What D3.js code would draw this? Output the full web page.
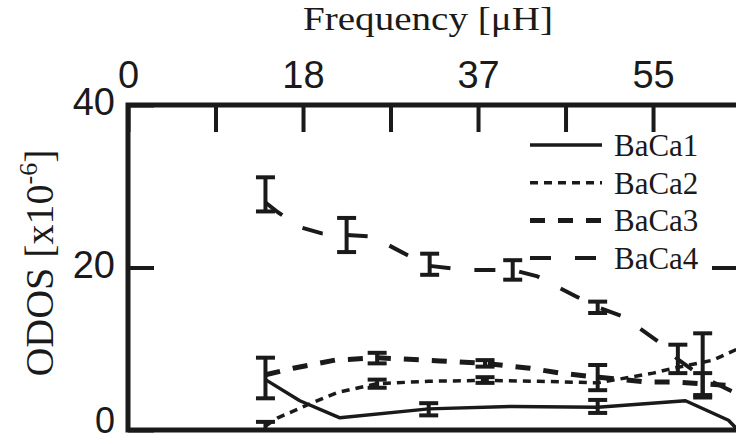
<!DOCTYPE html>
<html>
<head>
<meta charset="utf-8">
<script src="https://cdn.jsdelivr.net/npm/d3@7"></script>
<style>
  html, body { margin: 0; padding: 0; background: #fff; }
  svg { display: block; }
</style>
</head>
<body>
<svg id="chart" width="736" height="444"></svg>
<script>
// Top axis: minor ticks every 55/6 units, labels on every other tick
const freqTickValues = d3.range(7).map(i => i * 55 / 6);
const freqLabels = ["0", "18", "37", "55"];
const odosTicks = [0, 20, 40];
const odosLabels = ["0", "20", "40"];

const seriesNames = ["BaCa1", "BaCa2", "BaCa3", "BaCa4"];

// Line points per series: [frequency, ODOS]
const baca1 = [[14.4, 6.2], [18.0, 3.6], [22.2, 1.5], [31.5, 2.6], [40.3, 2.9], [49.2, 2.8], [58.4, 3.6], [62.9, 1.2], [63.9, 0]];
const baca2 = [[14.4, 0.5], [15.7, 1.5], [19.4, 3.4], [21.9, 4.6], [26.1, 5.7], [31.5, 6.0], [37.4, 6.1], [43.0, 6.0], [49.2, 5.8], [55.0, 7.0], [57.1, 7.6], [61.3, 8.6], [63.9, 10.0]];
const baca3 = [[14.4, 6.8], [17.3, 7.6], [21.7, 8.6], [26.1, 8.9], [32.7, 8.5], [37.4, 8.2], [42.1, 7.6], [45.3, 7.0], [49.2, 6.5], [54.4, 5.9], [57.6, 5.9], [63.9, 5.4]];
const baca4 = [[14.4, 28.0], [15.7, 26.8], [18.2, 24.9], [20.3, 24.2], [22.9, 24.0], [25.6, 23.8], [29.3, 21.5], [31.6, 20.2], [35.5, 19.7], [40.3, 19.7], [42.9, 18.9], [47.0, 16.4], [49.2, 15.1], [51.8, 14.0], [56.0, 10.5], [57.6, 8.7], [60.2, 6.5], [63.9, 4.4]];

// Error bars per series: [frequency, low, high]
const baca1Err = [[31.5, 1.8, 3.3], [49.2, 2.1, 3.7]];
const baca2Err = [[14.4, 0.0, 1.0], [26.1, 5.2, 6.2], [37.4, 5.8, 6.5], [60.2, 4.0, 11.9]];
const baca3Err = [[14.4, 3.9, 8.9], [26.1, 8.2, 9.5], [37.4, 7.8, 8.6], [49.2, 4.9, 8.0], [60.2, 4.3, 7.0]];
const baca4Err = [[14.4, 26.9, 31.1], [22.9, 21.9, 26.1], [31.6, 19.1, 21.7], [40.3, 18.5, 20.9], [49.2, 14.4, 15.8], [57.6, 7.0, 10.5]];

const seriesData = [baca1, baca2, baca3, baca4];
const seriesErr = [baca1Err, baca2Err, baca3Err, baca4Err];
const seriesDash = [null, "8,6", "15,13", "21,24"];
const seriesWidth = [3.5, 3.5, 5, 4];

const svg = d3.select("#chart");
svg.append("rect").attr("width", 736).attr("height", 444).attr("fill", "#fff");

const xMax = 63.9;
const x = d3.scaleLinear().domain([0, xMax]).range([128, 738]);
const y = d3.scaleLinear().domain([0, 40]).range([430, 105]);

const ink = "#1a1a1a";

// Series lines
const line = d3.line().x(d => x(d[0])).y(d => y(d[1])).curve(d3.curveLinear);
const plot = svg.append("g");
seriesData.forEach((data, i) => {
  plot.append("path")
    .attr("d", line(data))
    .attr("fill", "none")
    .attr("stroke", ink)
    .attr("stroke-width", seriesWidth[i])
    .attr("stroke-linejoin", "round")
    .attr("stroke-dasharray", seriesDash[i]);
});

// Error bars
const capHalf = 9.5;
seriesErr.forEach(errs => {
  const g = plot.append("g").attr("stroke", ink).attr("stroke-width", 4).attr("fill", "none");
  errs.forEach(([f, lo, hi]) => {
    const cx = x(f);
    g.append("line").attr("x1", cx).attr("x2", cx).attr("y1", y(lo)).attr("y2", y(hi));
    g.append("line").attr("x1", cx - capHalf).attr("x2", cx + capHalf).attr("y1", y(lo)).attr("y2", y(lo));
    g.append("line").attr("x1", cx - capHalf).attr("x2", cx + capHalf).attr("y1", y(hi)).attr("y2", y(hi));
  });
});

// Frame
const frame = svg.append("g").attr("stroke", ink).attr("stroke-width", 5).attr("fill", "none");
frame.append("path").attr("d", d3.line()([[x(xMax) + 1, y(40)], [x(0), y(40)], [x(0), y(0)], [x(xMax) + 1, y(0)]]));
frame.append("line").attr("x1", x(xMax) + 1).attr("x2", x(xMax) + 1).attr("y1", y(40)).attr("y2", y(0));

// Top axis with inward ticks
const topAxis = d3.axisTop(x)
  .tickValues(freqTickValues)
  .tickSize(-27)
  .tickPadding(17)
  .tickFormat((d, i) => i % 2 === 0 ? freqLabels[i / 2] : "");
const gTop = svg.append("g").attr("transform", `translate(0,${y(40)})`).call(topAxis);
gTop.select(".domain").remove();
gTop.selectAll(".tick line").attr("stroke", ink).attr("stroke-width", 4);
gTop.selectAll(".tick text")
  .attr("fill", ink)
  .style("font-family", "'Liberation Sans', Arial, sans-serif")
  .style("font-size", "38px");

// Left axis with inward ticks
const leftAxis = d3.axisLeft(y)
  .tickValues(odosTicks)
  .tickSize(-26)
  .tickPadding(13)
  .tickFormat((d, i) => odosLabels[i]);
const gLeft = svg.append("g").attr("transform", `translate(${x(0)},0)`).call(leftAxis);
gLeft.select(".domain").remove();
gLeft.selectAll(".tick line").attr("stroke", ink).attr("stroke-width", 4);
gLeft.selectAll(".tick text")
  .attr("fill", ink)
  .attr("dy", d => d === 0 ? "0.08em" : "0.26em")
  .style("font-family", "'Liberation Sans', Arial, sans-serif")
  .style("font-size", d => d === 0 ? "36px" : "38px");

// Right axis tick at 20, pointing inward
const gRight = svg.append("g").attr("transform", `translate(${x(xMax) + 1},0)`)
  .call(d3.axisRight(y).tickValues([20]).tickSize(-27).tickFormat(""));
gRight.select(".domain").remove();
gRight.selectAll(".tick line").attr("stroke", ink).attr("stroke-width", 4);

// Axis titles
svg.append("text")
  .attr("x", 428).attr("y", 30)
  .attr("text-anchor", "middle")
  .attr("textLength", 250).attr("lengthAdjust", "spacingAndGlyphs")
  .attr("fill", ink)
  .style("font-family", "'Liberation Serif', 'Times New Roman', serif")
  .style("font-size", "34px")
  .text("Frequency [\u03bcH]");

const yTitle = svg.append("text")
  .attr("transform", "translate(53,263) rotate(-90)")
  .attr("text-anchor", "middle")
  .attr("fill", ink)
  .style("font-family", "'Liberation Serif', 'Times New Roman', serif")
  .style("font-size", "40px");
yTitle.append("tspan").text("ODOS [x10");
yTitle.append("tspan").attr("dy", -16).style("font-size", "26px").text("-6");
yTitle.append("tspan").attr("dy", 16).text("]");

// Legend
const legend = svg.append("g");
seriesNames.forEach((name, i) => {
  const ly = 145 + i * 37.7;
  legend.append("line")
    .attr("x1", 530).attr("x2", 602).attr("y1", ly).attr("y2", ly)
    .attr("stroke", ink)
    .attr("stroke-width", seriesWidth[i])
    .attr("stroke-dasharray", seriesDash[i]);
  legend.append("text")
    .attr("x", 614).attr("y", ly + 11)
    .attr("fill", ink)
    .style("font-family", "'Liberation Serif', 'Times New Roman', serif")
    .style("font-size", "31px")
    .text(name);
});
</script>
</body>
</html>
